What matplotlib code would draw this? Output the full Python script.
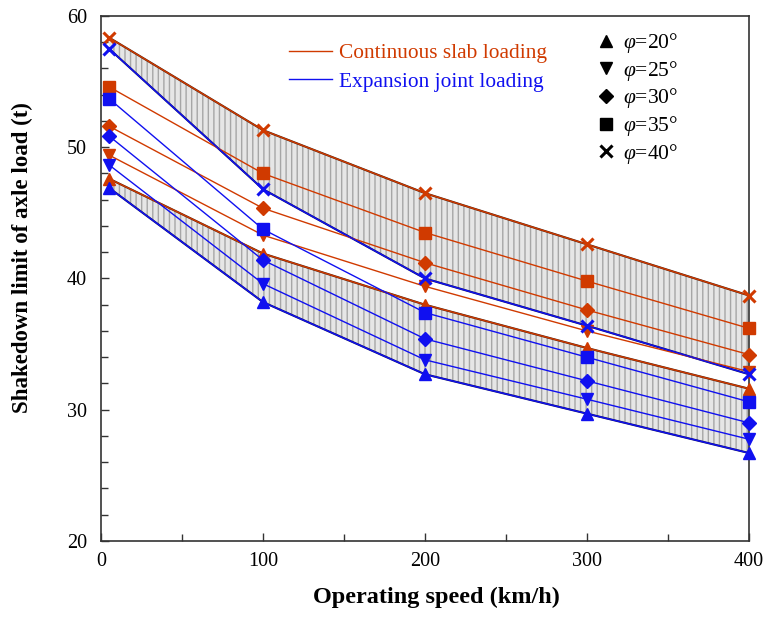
import matplotlib
matplotlib.use("Agg")
import matplotlib.pyplot as plt
from matplotlib.lines import Line2D
from matplotlib.ticker import MultipleLocator

plt.rcParams['font.family'] = ['Liberation Serif', 'DejaVu Serif']
plt.rcParams['mathtext.fontset'] = 'custom'
plt.rcParams['mathtext.rm'] = 'Liberation Serif'
plt.rcParams['mathtext.it'] = 'Liberation Serif:italic'
plt.rcParams['hatch.linewidth'] = 1.0

speed = [5, 100, 200, 300, 400]
angles = [20, 25, 30, 35, 40]
markers = ['^', 'v', 'D', 's', 'x']

continuous = {
    20: [47.6, 41.9, 38.0, 34.7, 31.6],
    25: [49.4, 43.3, 39.4, 36.0, 32.9],
    30: [51.6, 45.35, 41.2, 37.6, 34.2],
    35: [54.6, 48.0, 43.5, 39.8, 36.2],
    40: [58.35, 51.3, 46.5, 42.6, 38.7],
}
expansion = {
    20: [46.9, 38.2, 32.7, 29.7, 26.7],
    25: [48.65, 39.6, 33.8, 30.8, 27.75],
    30: [50.85, 41.4, 35.4, 32.2, 29.0],
    35: [53.7, 43.75, 37.4, 34.0, 30.6],
    40: [57.5, 46.8, 40.0, 36.4, 32.7],
}

red = '#D03A00'
blue = '#1010F0'

fig = plt.figure(figsize=(7.63, 6.17), dpi=100)
ax = fig.add_axes([0.1324, 0.1232, 0.8493, 0.8509])

# shaded bands
for top, bot in [(continuous[40], expansion[40]), (continuous[20], expansion[20])]:
    ax.fill_between(speed, bot, top, facecolor='#e6e6e6', edgecolor='#a6a6a6',
                    hatch='|||', linewidth=0, zorder=1)
    ax.plot(speed, top, color='#4a2010', lw=1.5, zorder=2)
    ax.plot(speed, bot, color='#101060', lw=1.5, zorder=2)

def msize(m):
    return {'^': 8, 'v': 8, 's': 8, 'D': 7, 'x': 8}[m]

for a, m in zip(angles, markers):
    mew = 2.2 if m == 'x' else 1
    ax.plot(speed, continuous[a], color=red, lw=1.0, marker=m, ms=msize(m), mew=mew,
            zorder=3, clip_on=False)
    ax.plot(speed, expansion[a], color=blue, lw=1.0, marker=m, ms=msize(m), mew=mew,
            zorder=3, clip_on=False)

ax.set_xlim(0, 400)
ax.set_ylim(20, 60)
ax.xaxis.set_major_locator(MultipleLocator(100))
ax.xaxis.set_minor_locator(MultipleLocator(50))
ax.yaxis.set_major_locator(MultipleLocator(10))
ax.yaxis.set_minor_locator(MultipleLocator(2))
ax.tick_params(which='both', direction='in', labelsize=14.5, width=1, colors='#333333',
               labelcolor='black')
ax.tick_params(which='major', length=6)
ax.tick_params(which='minor', length=5)
ax.tick_params(axis='x', pad=8)
ax.tick_params(axis='y', pad=10)
for s in ax.spines.values():
    s.set_linewidth(1.2)
    s.set_color('#333333')

ax.set_xlabel('Operating speed (km/h)', fontsize=17.5, fontweight='bold')
ax.set_ylabel('Shakedown limit of axle load (t)', fontsize=16.5, fontweight='bold')
ax.xaxis.set_label_coords(0.517, -0.087)
ax.yaxis.set_label_coords(-0.105, 0.539)

h1 = [Line2D([], [], color=red, lw=1.0), Line2D([], [], color=blue, lw=1.0)]
leg1 = ax.legend(h1, ['Continuous slab loading', 'Expansion joint loading'],
                 loc='upper left', bbox_to_anchor=(0.26, 0.985), frameon=False,
                 fontsize=15.4, handlelength=2.0, handletextpad=0.35, labelspacing=0.4)
for t, c in zip(leg1.get_texts(), [red, blue]):
    t.set_color(c)
ax.add_artist(leg1)

h2 = [Line2D([], [], color='black', ls='none', marker=m,
             ms=msize(m), mew=(2.2 if m == 'x' else 1)) for m in markers]
lab2 = [r'$\varphi$=%d°' % a for a in angles]
ax.legend(h2, lab2, loc='upper left', bbox_to_anchor=(0.733, 1.008), frameon=False,
          fontsize=15.5, handlelength=1.0, handletextpad=0.3, labelspacing=0.17)

fig.savefig('out.png', dpi=100)
